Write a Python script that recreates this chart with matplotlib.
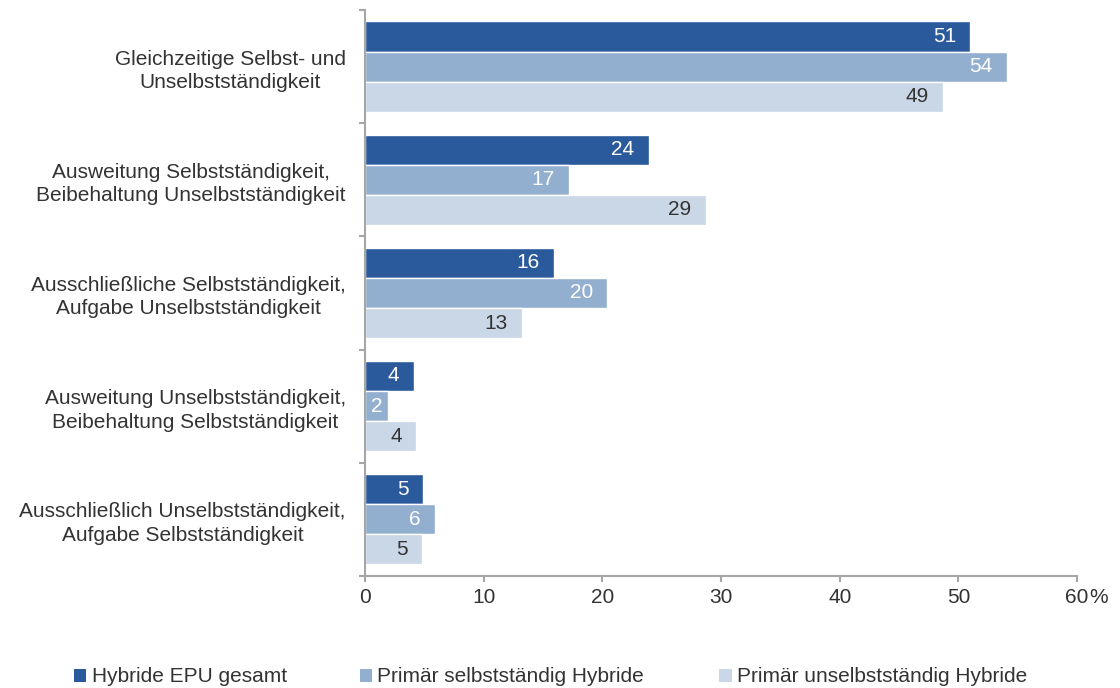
import matplotlib.pyplot as plt
from matplotlib.patches import Patch
import numpy as np

plt.rcParams['font.family'] = ['Liberation Sans', 'DejaVu Sans']

categories = [
    'Gleichzeitige Selbst- und\nUnselbstständigkeit',
    'Ausweitung Selbstständigkeit,\nBeibehaltung Unselbstständigkeit',
    'Ausschließliche Selbstständigkeit,\nAufgabe Unselbstständigkeit',
    'Ausweitung Unselbstständigkeit,\nBeibehaltung Selbstständigkeit',
    'Ausschließlich Unselbstständigkeit,\nAufgabe Selbstständigkeit',
]
series_names = ['Hybride EPU gesamt', 'Primär selbstständig Hybride', 'Primär unselbstständig Hybride']
gesamt = [51.0, 23.9, 15.9, 4.1, 4.9]
primaer_selbst = [54.1, 17.2, 20.4, 1.9, 5.9]
primaer_unselbst = [48.7, 28.7, 13.2, 4.3, 4.8]

colors = ['#2a5a9b', '#93afcf', '#c9d7e7']
text_colors = ['white', 'white', '#333333']
grey = '#a6a6a6'

fig = plt.figure(figsize=(11.2, 6.88), dpi=100)
ax = fig.add_axes([0.326, 0.163, 0.6356, 0.8225])

y = np.arange(len(categories))
h = 0.266
for i, vals in enumerate([gesamt, primaer_selbst, primaer_unselbst]):
    pos = y + (i - 1) * h
    ax.barh(pos, vals, height=h, color=colors[i], edgecolor='white', linewidth=1)
    for p, v in zip(pos, vals):
        # short bars get the label centred, the rest inside the bar end
        if v > 3:
            ax.text(v - 1.2, p, f'{v:.0f}', ha='right', va='center',
                    color=text_colors[i], fontsize=15)
        else:
            ax.text(v / 2, p, f'{v:.0f}', ha='center', va='center',
                    color=text_colors[i], fontsize=15)

ax.set_ylim(len(categories) - 0.5, -0.5)
ax.set_xlim(0, 60)
ax.set_xticks(range(0, 61, 10))
ax.set_xticklabels([str(t) for t in range(0, 61, 10)], fontsize=15, color='#333333')
ax.annotate('%', xy=(60, 0), xycoords=('data', 'axes fraction'),
            xytext=(9, -9), textcoords='offset points', ha='left', va='top',
            fontsize=15, color='#333333')

ax.set_yticks(y)
ax.set_yticklabels(categories, fontsize=15, color='#333333',
                   multialignment='center', linespacing=1.3)
ax.set_yticks(np.arange(-0.5, len(categories), 1), minor=True)
ax.tick_params(axis='y', which='major', length=0, pad=14)
ax.tick_params(axis='y', which='minor', length=4, width=1.5, color=grey)
ax.tick_params(axis='x', length=4, width=1.5, color=grey, pad=5)

for s in ['top', 'right']:
    ax.spines[s].set_visible(False)
for s in ['left', 'bottom']:
    ax.spines[s].set_color(grey)
    ax.spines[s].set_linewidth(1.5)

# one legend per entry so each can sit at its own x position
for c, name, x0 in zip(colors, series_names, [0.066, 0.321, 0.642]):
    fig.legend([Patch(facecolor=c, edgecolor='none')], [name], loc='center left',
               bbox_to_anchor=(x0, 0.016), frameon=False, fontsize=15,
               handlelength=0.6, handleheight=0.6, handletextpad=0.25,
               borderpad=0, borderaxespad=0, labelcolor='#333333')

fig.savefig('out.png', dpi=100)
